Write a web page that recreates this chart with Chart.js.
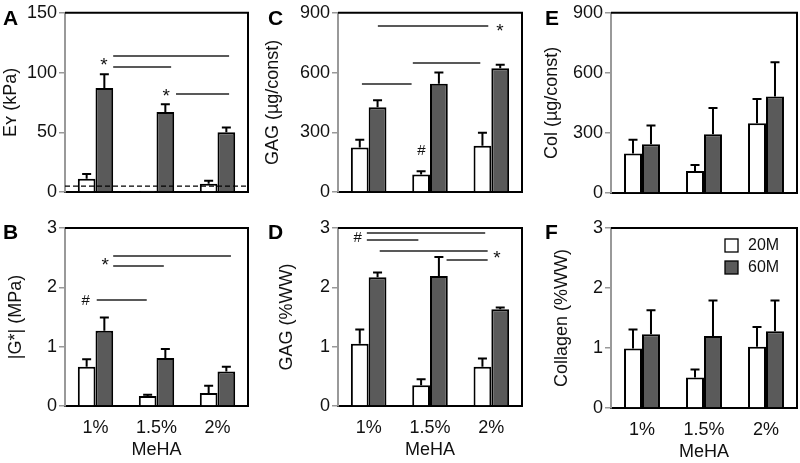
<!DOCTYPE html>
<html>
<head>
<meta charset="utf-8">
<script src="https://cdn.jsdelivr.net/npm/chart.js@4.4.1/dist/chart.umd.min.js"></script>
<style>
  html, body { margin: 0; padding: 0; background: #fff; }
  #wrap { position: relative; width: 800px; height: 463px; }
  #wrap canvas { position: absolute; left: 0; top: 0; }
</style>
</head>
<body>
<div id="wrap">
  <canvas id="chartA" width="800" height="463"></canvas>
  <canvas id="chartB" width="800" height="463"></canvas>
  <canvas id="chartC" width="800" height="463"></canvas>
  <canvas id="chartD" width="800" height="463"></canvas>
  <canvas id="chartE" width="800" height="463"></canvas>
  <canvas id="chartF" width="800" height="463"></canvas>
</div>
<script>
const categories = ['1%', '1.5%', '2%'];
const seriesNames = ['20M', '60M'];

// A - Ey (kPa)
const eyTicks = [0, 50, 100, 150];
const ey20 = [11, 1, 7];
const ey20Err = [4, 0, 2.5];
const ey60 = [87, 67, 50];
const ey60Err = [11.5, 6.5, 4];
const eyBaseline = 5;
const eySigLines = [[0.29, 2.19, 113.5], [0.29, 1.24, 105], [1.32, 2.19, 82]];
const eySigMarks = [[0.14, 109, '*'], [1.16, 83, '*']];

// B - |G*| (MPa)
const gTicks = [0, 1, 2, 3];
const g20 = [0.66, 0.17, 0.22];
const g20Err = [0.13, 0.02, 0.12];
const g60 = [1.27, 0.81, 0.58];
const g60Err = [0.22, 0.15, 0.08];
const gSigLines = [[0.29, 2.22, 2.53], [0.29, 1.12, 2.36], [0.02, 0.84, 1.79]];
const gSigMarks = [[0.16, 2.43, '*'], [-0.16, 1.79, '#']];

// C - GAG (ug/const)
const gagTicks = [0, 300, 600, 900];
const gag20 = [224, 88, 232];
const gag20Err = [38, 16, 66];
const gag60 = [426, 544, 622];
const gag60Err = [35, 56, 17];
const gagSigLines = [[0.15, 1.95, 834], [0.72, 1.82, 648], [-0.11, 0.70, 544]];
const gagSigMarks = [[2.14, 826, '*'], [0.86, 212, '#']];

// D - GAG (%WW)
const gagWwTicks = [0, 1, 2, 3];
const gagWw20 = [1.05, 0.35, 0.66];
const gagWw20Err = [0.24, 0.10, 0.14];
const gagWw60 = [2.17, 2.19, 1.63];
const gagWw60Err = [0.08, 0.32, 0.03];
const gagWwSigLines = [[-0.03, 1.90, 2.92], [-0.03, 0.81, 2.79], [0.18, 1.94, 2.62], [1.27, 1.94, 2.46]];
const gagWwSigMarks = [[-0.18, 2.84, '#'], [2.09, 2.56, '*']];

// E - Col (ug/const)
const colTicks = [0, 300, 600, 900];
const col20 = [197, 110, 348];
const col20Err = [69, 30, 121];
const col60 = [243, 293, 482];
const col60Err = [94, 131, 171];

// F - Collagen (%WW)
const colWwTicks = [0, 1, 2, 3];
const colWw20 = [0.99, 0.51, 1.02];
const colWw20Err = [0.32, 0.13, 0.33];
const colWw60 = [1.23, 1.20, 1.28];
const colWw60Err = [0.40, 0.59, 0.51];

const family = "'Liberation Sans', Arial, 'DejaVu Sans', sans-serif";
Chart.defaults.font.family = family;
Chart.defaults.font.size = 18;
Chart.defaults.color = '#111';

function extras(p) {
  return {
    id: 'extras',
    afterDatasetsDraw(chart) {
      const { ctx, chartArea: a, scales: { y } } = chart;
      ctx.save();
      ctx.strokeStyle = '#000';
      ctx.lineWidth = 2;
      // error bars, upper only
      chart.data.datasets.forEach((ds, i) => {
        chart.getDatasetMeta(i).data.forEach((bar, j) => {
          if (!ds.err[j]) return;
          const top = y.getPixelForValue(ds.data[j] + ds.err[j]);
          ctx.beginPath();
          ctx.moveTo(bar.x, bar.y);
          ctx.lineTo(bar.x, top);
          ctx.moveTo(bar.x - 4.5, top);
          ctx.lineTo(bar.x + 4.5, top);
          ctx.stroke();
        });
      });
      if (p.baseline != null) {
        const yy = y.getPixelForValue(p.baseline);
        ctx.setLineDash([5, 3]);
        ctx.lineWidth = 1.3;
        ctx.beginPath();
        ctx.moveTo(a.left, yy);
        ctx.lineTo(a.right, yy);
        ctx.stroke();
      }
      ctx.restore();
    },
    afterDraw(chart) {
      const { ctx, chartArea: a, scales: { x, y } } = chart;
      ctx.save();
      // top + right frame
      ctx.strokeStyle = '#000';
      ctx.lineWidth = 2;
      ctx.beginPath();
      ctx.moveTo(a.left, a.top);
      ctx.lineTo(a.right, a.top);
      ctx.lineTo(a.right, a.bottom);
      ctx.stroke();

      // significance bars
      ctx.strokeStyle = '#222';
      ctx.lineWidth = 1.6;
      (p.sigLines || []).forEach(([x1, x2, v]) => {
        const yy = Math.round(y.getPixelForValue(v));
        ctx.beginPath();
        ctx.moveTo(x.getPixelForValue(x1), yy);
        ctx.lineTo(x.getPixelForValue(x2), yy);
        ctx.stroke();
      });
      ctx.fillStyle = '#111';
      ctx.textAlign = 'center';
      ctx.textBaseline = 'alphabetic';
      (p.sigMarks || []).forEach(([xi, v, t]) => {
        ctx.font = (t === '#' ? '15px ' : '19px ') + family;
        const m = ctx.measureText(t);
        const off = (m.actualBoundingBoxAscent - m.actualBoundingBoxDescent) / 2;
        ctx.fillText(t, x.getPixelForValue(xi), y.getPixelForValue(v) + off);
      });

      // panel letter
      ctx.font = 'bold 21px ' + family;
      ctx.textAlign = 'left';
      ctx.fillStyle = '#000';
      ctx.fillText(p.letter, p.letterPos[0], p.letterPos[1]);

      // legend
      if (p.legend) {
        ctx.font = '16px ' + family;
        ctx.textBaseline = 'middle';
        chart.data.datasets.forEach((ds, i) => {
          const bx = a.right - 72, by = a.top + 11 + i * 22;
          ctx.fillStyle = ds.backgroundColor;
          ctx.fillRect(bx, by, 13, 13);
          ctx.strokeStyle = '#000';
          ctx.lineWidth = 1.3;
          ctx.strokeRect(bx, by, 13, 13);
          ctx.fillStyle = '#111';
          ctx.fillText(ds.label, bx + 23, by + 7);
        });
      }
      ctx.restore();
    }
  };
}

function panel(id, p) {
  const xH = p.bottomRow ? 55 : 0;
  return new Chart(document.getElementById(id), {
    type: 'bar',
    data: {
      labels: categories,
      datasets: [
        { label: seriesNames[0], data: p.s20, err: p.e20, backgroundColor: '#ffffff' },
        { label: seriesNames[1], data: p.s60, err: p.e60, backgroundColor: '#5a5a5a' }
      ]
    },
    options: {
      responsive: false,
      animation: false,
      events: [],
      layout: {
        padding: { left: p.area[0] - p.axisW, top: p.area[1], right: 800 - p.area[2], bottom: 463 - p.area[3] - xH }
      },
      elements: { bar: { borderColor: '#000', borderWidth: 2 } },
      datasets: { bar: { categoryPercentage: 0.58, barPercentage: 1 } },
      plugins: { legend: { display: false }, tooltip: { enabled: false } },
      scales: {
        x: {
          grid: { display: false, drawTicks: false },
          border: { color: '#000', width: 2 },
          ticks: { display: p.bottomRow, padding: 11 },
          title: { display: p.bottomRow, text: 'MeHA', padding: 0 },
          afterFit: s => { s.height = xH; }
        },
        y: {
          min: 0,
          max: p.ticks[p.ticks.length - 1],
          afterBuildTicks: s => { s.ticks = p.ticks.map(v => ({ value: v })); },
          grid: { drawOnChartArea: false, drawTicks: true, tickLength: 6, color: '#999', lineWidth: 1.5 },
          border: { color: '#999', width: 2 },
          ticks: { padding: 2 },
          title: { display: true, text: p.title, padding: { top: p.titlePad, bottom: 0 } },
          afterFit: s => { s.width = p.axisW; }
        }
      }
    },
    plugins: [extras(p)]
  });
}

panel('chartA', {
  letter: 'A', letterPos: [3, 25], title: 'Eʏ (kPa)', area: [65, 11, 248, 192], axisW: 65, titlePad: 0,
  ticks: eyTicks, s20: ey20, e20: ey20Err, s60: ey60, e60: ey60Err,
  baseline: eyBaseline, sigLines: eySigLines, sigMarks: eySigMarks, bottomRow: false
});
panel('chartB', {
  letter: 'B', letterPos: [3, 239], title: '|G*| (MPa)', area: [65, 228, 248, 406], axisW: 65, titlePad: 5,
  ticks: gTicks, s20: g20, e20: g20Err, s60: g60, e60: g60Err,
  sigLines: gSigLines, sigMarks: gSigMarks, bottomRow: true
});
panel('chartC', {
  letter: 'C', letterPos: [268, 25], title: 'GAG (µg/const)', area: [338, 11, 522, 192], axisW: 76, titlePad: 0,
  ticks: gagTicks, s20: gag20, e20: gag20Err, s60: gag60, e60: gag60Err,
  sigLines: gagSigLines, sigMarks: gagSigMarks, bottomRow: false
});
panel('chartD', {
  letter: 'D', letterPos: [268, 239], title: 'GAG (%WW)', area: [338, 228, 522, 406], axisW: 76, titlePad: 14,
  ticks: gagWwTicks, s20: gagWw20, e20: gagWw20Err, s60: gagWw60, e60: gagWw60Err,
  sigLines: gagWwSigLines, sigMarks: gagWwSigMarks, bottomRow: true
});
panel('chartE', {
  letter: 'E', letterPos: [545, 25], title: 'Col (µg/const)', area: [611, 11, 797, 193], axisW: 70, titlePad: 0,
  ticks: colTicks, s20: col20, e20: col20Err, s60: col60, e60: col60Err, bottomRow: false
});
panel('chartF', {
  letter: 'F', letterPos: [545, 239], title: 'Collagen (%WW)', area: [611, 228, 797, 408], axisW: 70, titlePad: 10,
  ticks: colWwTicks, s20: colWw20, e20: colWw20Err, s60: colWw60, e60: colWw60Err,
  legend: true, bottomRow: true
});
</script>
</body>
</html>
